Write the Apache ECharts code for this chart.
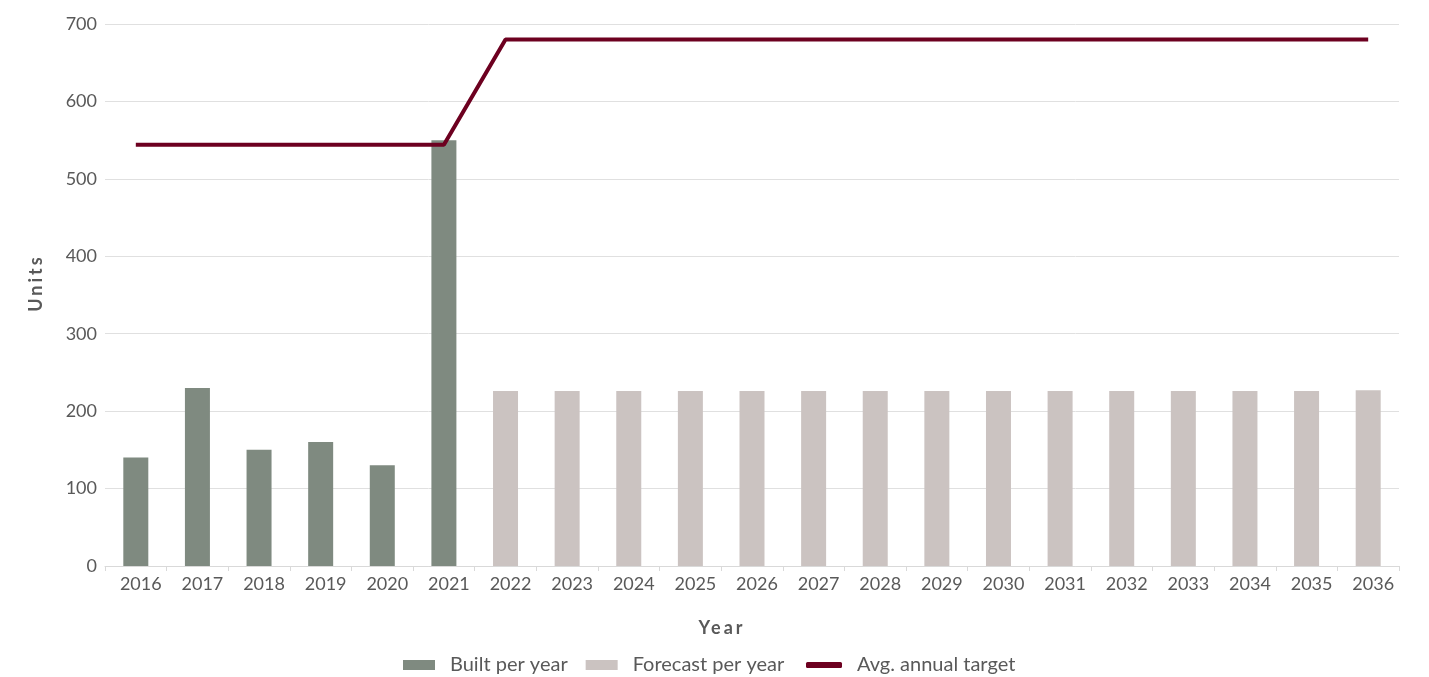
<!DOCTYPE html>
<html><head><meta charset="utf-8">
<script src="https://cdn.jsdelivr.net/npm/echarts@6/dist/echarts.min.js"></script>
<style>html,body{margin:0;padding:0;background:#fff}#c{width:1429px;height:677px}</style>
</head><body><div id="c"></div>
<script>
const years = ['2016','2017','2018','2019','2020','2021','2022','2023','2024','2025','2026','2027','2028','2029','2030','2031','2032','2033','2034','2035','2036'];
const built = [140,230,150,160,130,550,null,null,null,null,null,null,null,null,null,null,null,null,null,null,null];
const forecast = [null,null,null,null,null,null,226,226,226,226,226,226,226,226,226,226,226,226,226,226,227];
const target = [544,544,544,544,544,544,680,680,680,680,680,680,680,680,680,680,680,680,680,680,680];
const yTicks = [0,100,200,300,400,500,600,700];

// letter-spaced axis titles
(function(){
  const orig = CanvasRenderingContext2D.prototype.fillText;
  CanvasRenderingContext2D.prototype.fillText = function(t, x, y, m){
    if ((t === 'Year' || t === 'Units') && 'letterSpacing' in this) {
      const p = this.letterSpacing;
      const f = this.font;
      this.letterSpacing = '3px';
      this.font = f;
      const r = m === undefined ? orig.call(this, t, x, y) : orig.call(this, t, x, y, m);
      this.letterSpacing = p;
      this.font = f;
      return r;
    }
    if ('letterSpacing' in this && this.letterSpacing !== '0px') {
      this.letterSpacing = '0px';
      this.font = this.font;
    }
    return orig.apply(this, arguments);
  };
})();

const font = 'Lato, "Open Sans", sans-serif';
const txt = '#595959';
const chart = echarts.init(document.getElementById('c'));
chart.setOption({
  animation:false,
  textStyle:{fontFamily:font},
  grid:{left:105,right:30,top:24,bottom:111},
  legend:[
    {
      left:403, top:655, padding:0, itemWidth:32, itemHeight:10, itemGap:18,
      textStyle:{fontFamily:font,fontSize:20,color:txt,padding:[0,0,0,10]},
      data:[{name:'Built per year',icon:'rect'},{name:'Forecast per year',icon:'rect'}]
    },
    {
      left:806, top:655, padding:0, itemWidth:36, itemHeight:6,
      textStyle:{fontFamily:font,fontSize:20,color:txt,padding:[0,0,0,10]},
      data:[{name:'Avg. annual target',icon:'roundRect'}]
    }
  ],
  xAxis:{
    type:'category', data:years,
    name:'Year', nameLocation:'middle', nameGap:53,
    nameTextStyle:{fontFamily:font,fontSize:18,fontWeight:'bold',color:txt,padding:[0,60,0,0]},
    axisLine:{lineStyle:{color:'#d9d9d9'}},
    axisTick:{show:true,alignWithLabel:false,lineStyle:{color:'#d9d9d9'}},
    axisLabel:{fontFamily:font,fontSize:18,color:txt,margin:9,padding:[0,0,0,10]}
  },
  yAxis:{
    type:'value', min:yTicks[0], max:yTicks[yTicks.length-1], interval:100,
    name:'Units', nameLocation:'middle', nameGap:60, nameRotate:90,
    nameTextStyle:{fontFamily:font,fontSize:18,fontWeight:'bold',color:txt,padding:[0,0,0,24]},
    axisLine:{show:false}, axisTick:{show:false},
    splitLine:{lineStyle:{color:'#e0e0e0'}},
    axisLabel:{fontFamily:font,fontSize:18,color:txt,margin:8}
  },
  series:[
    {name:'Built per year',type:'bar',data:built,barWidth:25,barGap:'-100%',itemStyle:{color:'#7f8a80'}},
    {name:'Forecast per year',type:'bar',data:forecast,barWidth:25,itemStyle:{color:'#cbc3c1'}},
    {name:'Avg. annual target',type:'line',data:target,symbol:'none',lineStyle:{color:'#6d0020',width:4},itemStyle:{color:'#6d0020'}}
  ]
});
</script></body></html>
